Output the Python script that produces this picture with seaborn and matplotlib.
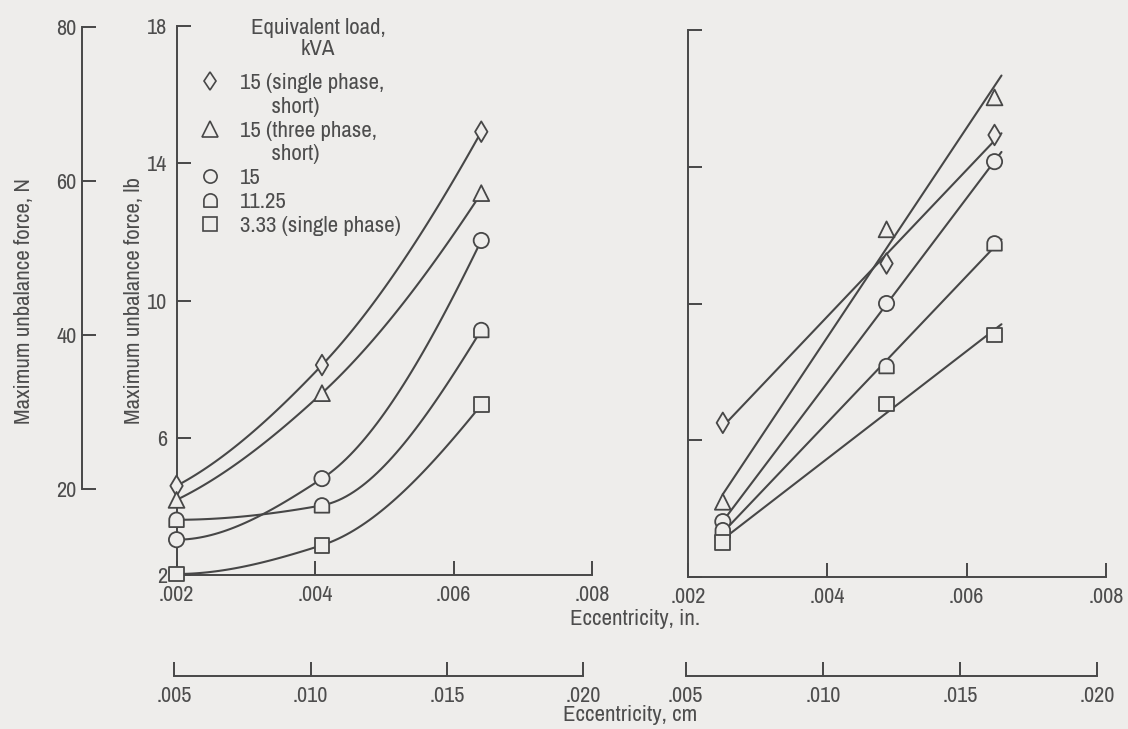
import numpy as np
import pandas as pd
import seaborn as sns
import matplotlib
matplotlib.use("Agg")
import matplotlib.pyplot as plt
from matplotlib.path import Path
from matplotlib.lines import Line2D
from matplotlib.ticker import FuncFormatter

# values: force in lb, eccentricity in inches
loads = ["15 (single phase, short)", "15 (three phase, short)", "15", "11.25", "3.33 (single phase)"]

ecc_left = [0.002, 0.0041, 0.0064]
left_15_single = [4.60, 8.12, 14.92]
left_15_three = [4.19, 7.30, 13.13]
left_15 = [3.03, 4.81, 11.75]
left_11_25 = [3.61, 4.03, 9.14]
left_3_33 = [2.03, 2.87, 6.96]

ecc_right = [0.0025, 0.00485, 0.0064]
right_15_single = [6.51, 11.17, 14.93]
right_15_three = [4.20, 12.17, 16.03]
right_15 = [3.62, 10.00, 14.15]
right_11_25 = [3.37, 8.17, 11.76]
right_3_33 = [3.00, 7.06, 9.08]

in_ticks = [0.002, 0.004, 0.006, 0.008]
cm_ticks = [0.005, 0.010, 0.015, 0.020]
lb_ticks = [2, 6, 10, 14, 18]
n_ticks = [20, 40, 60, 80]

legend_title = "Equivalent load,\nkVA"
legend_labels = ["15 (single phase,", "      short)", "15 (three phase,", "      short)",
                 "15", "11.25", "3.33 (single phase)"]

LB_TO_N = 4.448
CM_PER_IN = 2.54
fit_end = 0.0065

bg = "#eeedeb"
ink = "#474747"
txt = "#4d4d4d"

# open "D" marker: flat bottom, round top
arc = Path.arc(0, 180)
dome = Path(np.vstack([[-1, -1], [1, -1], arc.vertices, [-1, -1]]),
            [Path.MOVETO, Path.LINETO, Path.LINETO] + list(arc.codes[1:]) + [Path.CLOSEPOLY])

marker_map = dict(zip(loads, ["d", "^", "o", dome, "s"]))
size_map = dict(zip(loads, [110, 130, 120, 110, 115]))


def frame(ecc, series):
    rows = []
    for load, vals in zip(loads, series):
        for e, f in zip(ecc, vals):
            rows.append({"ecc": e, "force": f, "load": load})
    return pd.DataFrame(rows)


def smooth(x, y, n=80):
    # monotone cubic (Fritsch-Carlson) curve through the plotted points
    x, y = np.asarray(x, float), np.asarray(y, float)
    h = np.diff(x)
    d = np.diff(y) / h
    m = np.zeros_like(y)
    for k in range(1, len(x) - 1):
        if d[k - 1] * d[k] > 0:
            w1, w2 = 2 * h[k] + h[k - 1], h[k] + 2 * h[k - 1]
            m[k] = (w1 + w2) / (w1 / d[k - 1] + w2 / d[k])
    m[0] = ((2 * h[0] + h[1]) * d[0] - h[0] * d[1]) / (h[0] + h[1])
    m[-1] = ((2 * h[-1] + h[-2]) * d[-1] - h[-1] * d[-2]) / (h[-1] + h[-2])
    if m[0] * d[0] <= 0:
        m[0] = 0
    if m[-1] * d[-1] <= 0:
        m[-1] = 0
    xs = np.linspace(x[0], x[-1], n)
    k = np.clip(np.searchsorted(x, xs) - 1, 0, len(x) - 2)
    t = (xs - x[k]) / h[k]
    ys = ((2 * t**3 - 3 * t**2 + 1) * y[k] + (t**3 - 2 * t**2 + t) * h[k] * m[k]
          + (-2 * t**3 + 3 * t**2) * y[k + 1] + (t**3 - t**2) * h[k] * m[k + 1])
    return xs, ys


def draw_panel(ax, ecc, series, curved):
    for vals in series:
        if curved:
            xs, ys = smooth(ecc, vals)
        else:
            slope, icpt = np.polyfit(ecc, vals, 1)
            xs = np.array([ecc[0], fit_end])
            ys = slope * xs + icpt
        ax.plot(xs, ys, color=ink, lw=1.5, zorder=2, clip_on=False)
    sns.scatterplot(data=frame(ecc, series), x="ecc", y="force", style="load", size="load",
                    markers=marker_map, sizes=size_map, style_order=loads, size_order=loads,
                    color=ink, facecolor=bg, edgecolor=ink, linewidth=1.3,
                    legend=False, zorder=3, clip_on=False, ax=ax)


in_fmt = FuncFormatter(lambda v, p: f"{v:.3f}".lstrip("0"))

sns.set_style("ticks", {"axes.facecolor": bg, "figure.facecolor": bg, "axes.edgecolor": ink,
                        "xtick.color": ink, "ytick.color": ink, "text.color": txt,
                        "axes.labelcolor": txt})
plt.rcParams["font.family"] = ["Archivo Narrow", "DejaVu Sans"]
plt.rcParams["font.weight"] = "medium"
plt.rcParams["xtick.labelcolor"] = txt
plt.rcParams["ytick.labelcolor"] = txt

fig = plt.figure(figsize=(11.28, 7.29), dpi=100)
ax_l = fig.add_axes([0.1565, 0.2112, 0.3684, 0.7531])
ax_r = fig.add_axes([0.6099, 0.2085, 0.3706, 0.7503])

draw_panel(ax_l, ecc_left, [left_15_single, left_15_three, left_15, left_11_25, left_3_33], True)
draw_panel(ax_r, ecc_right, [right_15_single, right_15_three, right_15, right_11_25, right_3_33], False)

for ax in (ax_l, ax_r):
    ax.set_xlim(in_ticks[0], in_ticks[-1])
    ax.set_ylim(lb_ticks[0], lb_ticks[-1])
    ax.set_xticks(in_ticks)
    ax.set_yticks(lb_ticks)
    ax.xaxis.set_major_formatter(in_fmt)
    ax.set_xlabel("")
    ax.set_ylabel("")
    sns.despine(ax=ax)
    for s in ax.spines.values():
        s.set_linewidth(1.4)
    ax.tick_params(direction="in", length=10, width=1.4, labelsize=16, pad=7)
ax_r.tick_params(axis="y", labelleft=False)

ax_l.set_ylabel("Maximum unbalance force, lb", fontsize=16.5, labelpad=2)

# newton scale on the far left
sec = ax_l.secondary_yaxis(-0.2274, functions=(lambda lb: lb * LB_TO_N, lambda n: n / LB_TO_N))
sec.set_yticks(n_ticks)
sec.spines["left"].set_bounds(n_ticks[0], n_ticks[-1])
sec.spines["left"].set_linewidth(1.4)
sec.tick_params(direction="in", length=10, width=1.4, labelsize=16, pad=4)
sec.set_ylabel("Maximum unbalance force, N", fontsize=16.5, labelpad=16)


def add_cm_axis(ax):
    pos = ax.get_position()
    x0, x1 = ax.get_xlim()
    lo = cm_ticks[0] / CM_PER_IN
    left = pos.x0 + (lo - x0) / (x1 - x0) * pos.width
    width = (x1 - lo) / (x1 - x0) * pos.width
    cax = fig.add_axes([left, 0.0727, width, 0.02])
    cax.set_facecolor("none")
    cax.set_xlim(cm_ticks[0], x1 * CM_PER_IN)
    cax.set_xticks(cm_ticks)
    cax.set_yticks([])
    cax.xaxis.set_major_formatter(in_fmt)
    for side in ("top", "left", "right"):
        cax.spines[side].set_visible(False)
    cax.spines["bottom"].set_bounds(cm_ticks[0], cm_ticks[-1])
    cax.spines["bottom"].set_linewidth(1.4)
    cax.tick_params(direction="in", length=10, width=1.4, labelsize=16, pad=7)


add_cm_axis(ax_l)
add_cm_axis(ax_r)

fig.text(0.563, 0.151, "Eccentricity, in.", ha="center", va="center", fontsize=16.5)
fig.text(0.5585, 0.0192, "Eccentricity, cm", ha="center", va="center", fontsize=16.5)

# legend: title set as its own centred text, one row per printed line
ax_l.text(0.3405, 0.977, legend_title, transform=ax_l.transAxes, ha="center", va="center",
          multialignment="center", linespacing=1.05, fontsize=16.5)
leg_markers = ["d", "", "^", "", "o", dome, "s"]
leg_sizes = [9.5, 0, 11, 0, 9.5, 9.5, 9.5]
handles = [Line2D([], [], ls="none", marker=m, ms=s, mfc=bg, mec=ink, mew=1.2)
           for m, s in zip(leg_markers, leg_sizes)]
ax_l.legend(handles, legend_labels, loc="upper left", bbox_to_anchor=(0.054, 0.914),
            frameon=False, fontsize=16.5, handlelength=1.0, handletextpad=0.8,
            labelspacing=0.16, borderaxespad=0, borderpad=0)

fig.savefig("out.png", dpi=100, facecolor=bg)
